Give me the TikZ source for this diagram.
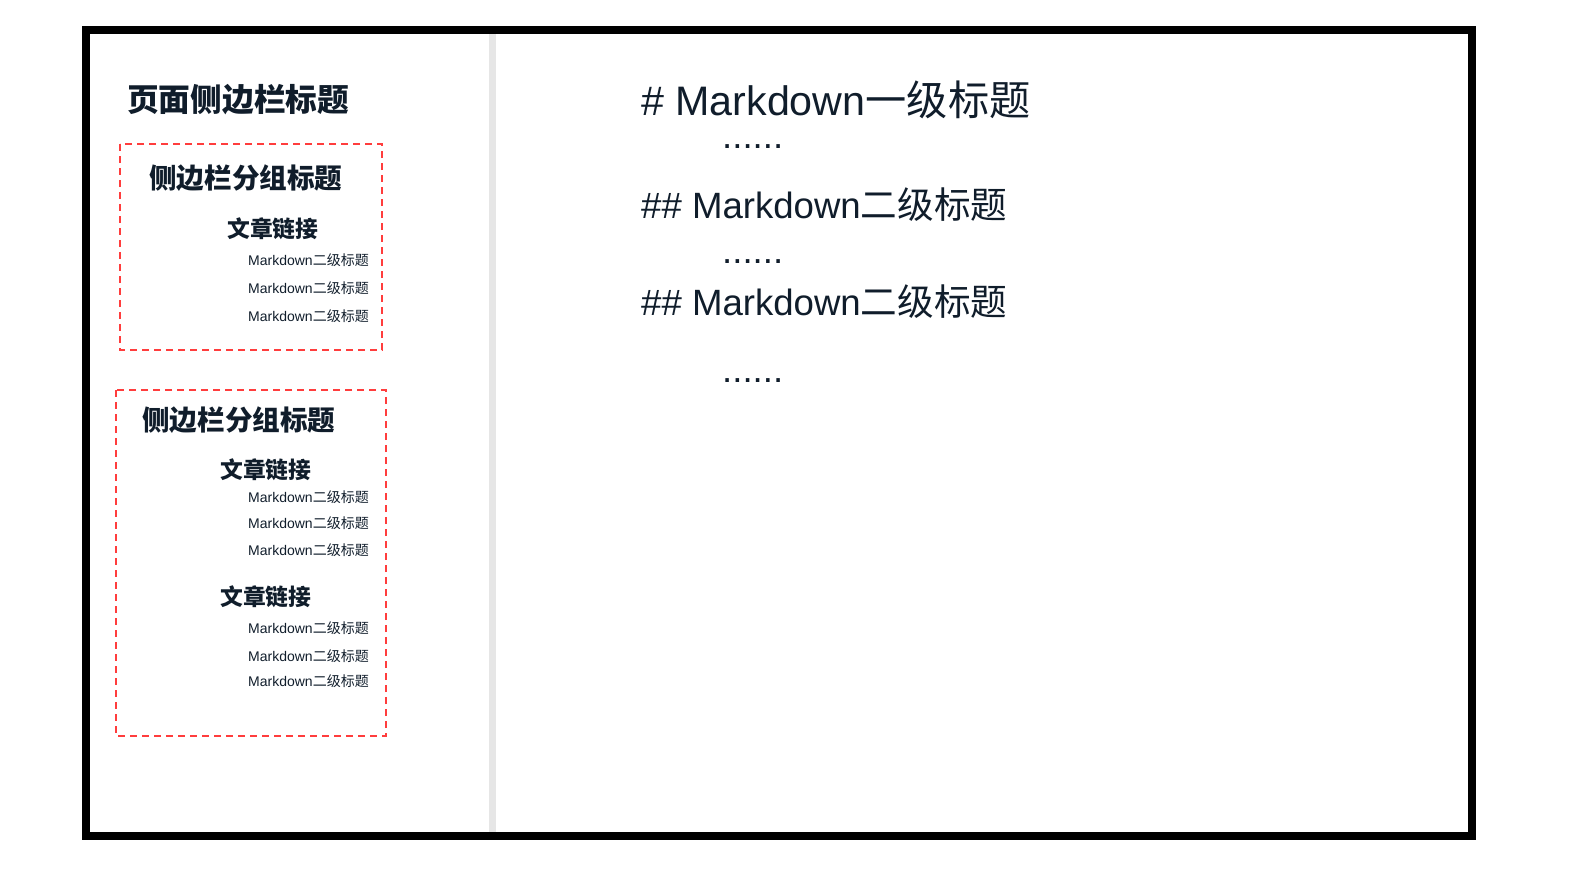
\documentclass[tikz,border=0pt]{standalone}
\usepackage{fontspec}
\setmainfont{Liberation Sans}
\newfontfamily\cjk{Noto Sans CJK SC}
\definecolor{textc}{HTML}{101D2B}
\definecolor{redd}{HTML}{FF3D3D}
\definecolor{divg}{HTML}{E6E6E6}
\newcommand{\fs}[1]{\fontsize{#1}{#1}\selectfont}
\begin{document}
\begin{tikzpicture}[x=1pt,y=-1pt,
  txt/.style={inner sep=0pt, anchor=west, text=textc},
  ptitle/.style={txt, font=\cjk\bfseries\fs{31.7}},
  gtitle/.style={txt, font=\cjk\bfseries\fs{27.6}},
  alink/.style={txt, font=\cjk\bfseries\fs{22.8}},
  sitem/.style={txt, font=\fs{14}},
  hone/.style={txt, font=\fs{41.2}},
  htwo/.style={txt, font=\fs{36.6}},
  dots/.style={txt, font=\fs{36.6}},
  groupbox/.style={draw=redd, line width=2.5pt, dash pattern=on 7pt off 5pt},
]
\useasboundingbox (0,0) rectangle (1577,878);
% divider
\fill[divg] (489,33) rectangle (496,833);
% frame
\draw[line width=7.5pt] (86,30) rectangle (1472,836);

% sidebar title
\node[ptitle] (pt) at (127,100) {页面侧边栏标题};

% group 1
\draw[groupbox] (120,144) rectangle (382,350);
\node[gtitle] (g1) at (149,178) {侧边栏分组标题};
\node[alink] (a1) at (227,229) {文章链接};
\node[sitem] (s11) at (248,260) {Markdown{\cjk 二级标题}};
\node[sitem] (s12) at (248,288) {Markdown{\cjk 二级标题}};
\node[sitem] (s13) at (248,316) {Markdown{\cjk 二级标题}};

% group 2
\draw[groupbox] (116,390) rectangle (386,736);
\node[gtitle] (g2) at (142,420) {侧边栏分组标题};
\node[alink] (a2) at (220,470) {文章链接};
\node[sitem] (s21) at (248,497) {Markdown{\cjk 二级标题}};
\node[sitem] (s22) at (248,523) {Markdown{\cjk 二级标题}};
\node[sitem] (s23) at (248,550) {Markdown{\cjk 二级标题}};
\node[alink] (a3) at (220,597) {文章链接};
\node[sitem] (s24) at (248,628) {Markdown{\cjk 二级标题}};
\node[sitem] (s25) at (248,656) {Markdown{\cjk 二级标题}};
\node[sitem] (s26) at (248,681) {Markdown{\cjk 二级标题}};

% main content
\node[hone] (h1) at (641,100) {\# Markdown{\cjk 一级标题}};
\node[dots] (d1) at (722,147) {......};
\node[htwo] (h2) at (641,205) {\#\# Markdown{\cjk 二级标题}};
\node[dots] (d2) at (722,262) {......};
\node[htwo] (h3) at (641,302) {\#\# Markdown{\cjk 二级标题}};
\node[dots] (d3) at (722,381) {......};
\end{tikzpicture}
\end{document}
